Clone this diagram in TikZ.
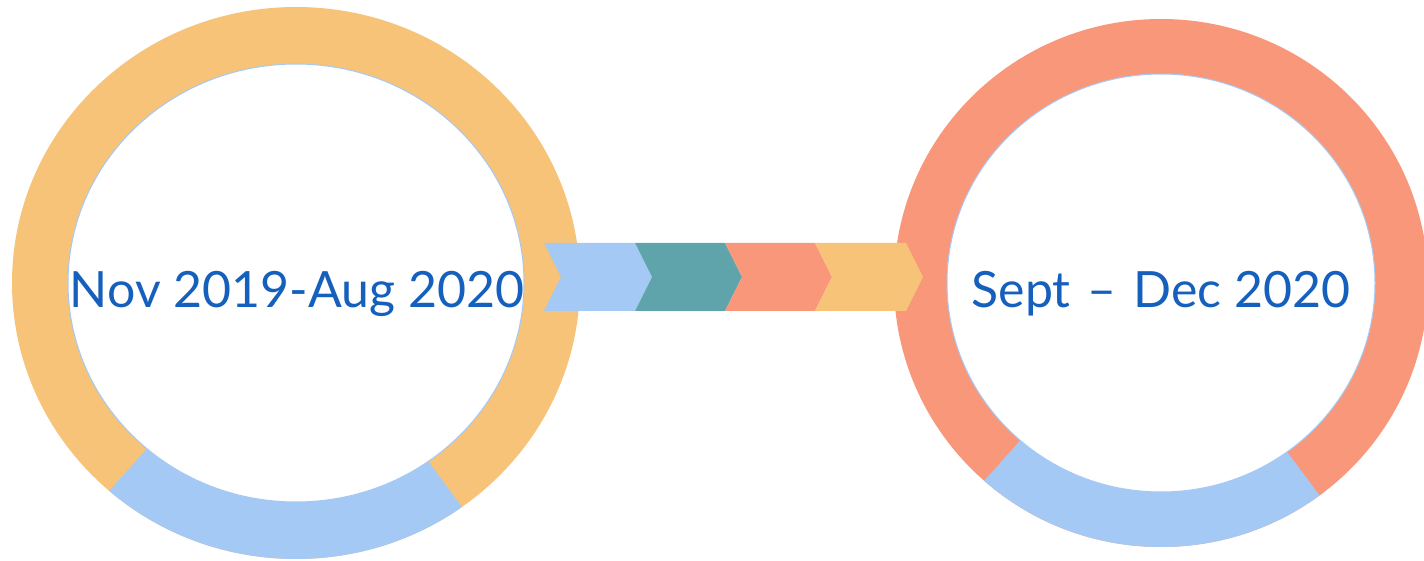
\documentclass[tikz,border=0pt]{standalone}
\usepackage{fontspec}
\setmainfont{Lato}
\definecolor{ringorange}{HTML}{F7C379}
\definecolor{ringsalmon}{HTML}{F9977A}
\definecolor{ringblue}{HTML}{A4C9F5}
\definecolor{chevteal}{HTML}{5FA4AB}
\definecolor{datablue}{HTML}{1560BD}
\tikzset{datetext/.style={anchor=base, inner sep=0pt, text=datablue, font=\fontsize{25}{30}\selectfont}}
\tikzset{innerhole/.style={fill=white, draw=ringblue, line width=0.5pt}}

\begin{document}
\begin{tikzpicture}[x=0.5pt,y=-0.5pt]
    \useasboundingbox (0,0) rectangle (1424,561);
    % left ring
    \fill[ringorange] (296,283) ellipse (284 and 276);
    \begin{scope}
        \clip (296,283) ellipse (284 and 276);
        \fill[ringblue] (296,283) -- (-78,699) -- (628,731) -- cycle;
    \end{scope}
    \filldraw[innerhole] (296,283) ellipse (228 and 219);
    % right ring
    \fill[ringsalmon] (1161,283) ellipse (267 and 264);
    \begin{scope}
        \clip (1161,283) ellipse (267 and 264);
        \fill[ringblue] (1161,283) -- (807,679) -- (1479,709) -- cycle;
    \end{scope}
    \filldraw[innerhole] (1161,283) ellipse (214 and 209);
    % chevrons
    \fill[ringblue] (544,243) -- (635,243) -- (652,277) -- (635,311) -- (544,311) -- (561,277) -- cycle;
    \fill[chevteal] (635,243) -- (725,243) -- (742,277) -- (725,311) -- (635,311) -- (652,277) -- cycle;
    \fill[ringsalmon] (725,243) -- (815,243) -- (832,277) -- (815,311) -- (725,311) -- (742,277) -- cycle;
    \fill[ringorange] (815,243) -- (906,243) -- (923,277) -- (906,311) -- (815,311) -- (832,277) -- cycle;
    % labels
    \node[datetext] (start) at (297,307) {Nov 2019-Aug 2020};
    \node[datetext] (finish) at (1161,307) {Sept\hspace{2pt} – \hspace{2pt}Dec 2020};
\end{tikzpicture}
\end{document}
